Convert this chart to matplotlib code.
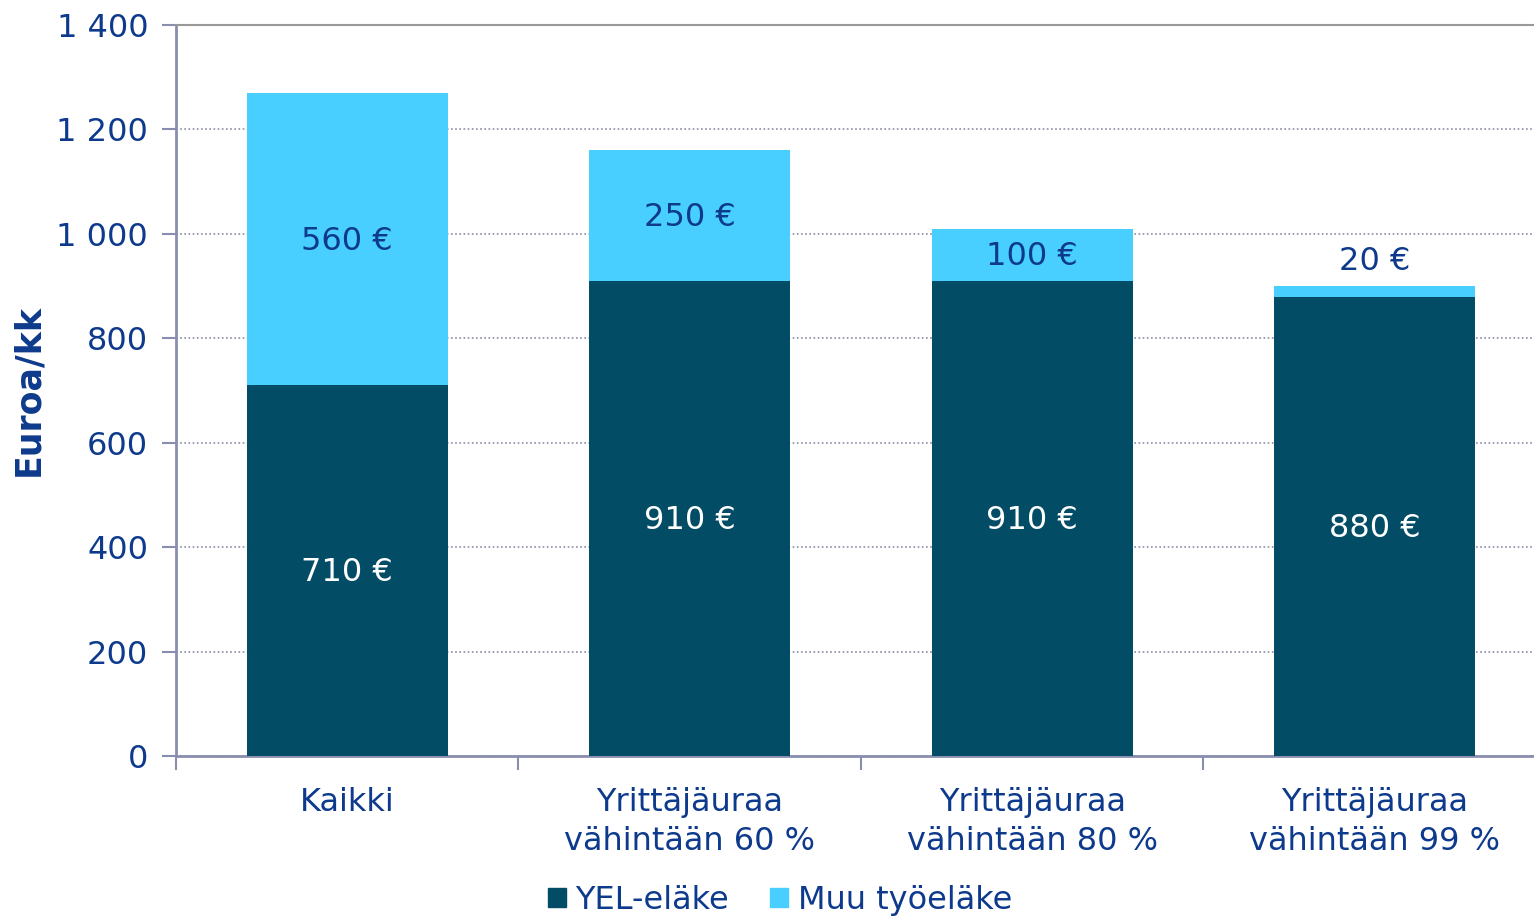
import numpy as np
import matplotlib.pyplot as plt
from matplotlib.patches import Patch

categories = ["Kaikki", "Yrittäjäuraa\nvähintään 60 %", "Yrittäjäuraa\nvähintään 80 %", "Yrittäjäuraa\nvähintään 99 %"]
yel = [710, 910, 910, 880]
muu = [560, 250, 100, 20]
series_names = ["YEL-eläke", "Muu työeläke"]

dark = "#024C66"
light = "#48CFFF"
navy = "#0D3A8C"
axis_col = "#8A8EAE"

plt.rcParams["font.family"] = "DejaVu Sans"

fig = plt.figure(figsize=(15.34, 9.17), dpi=100)
ax = fig.add_axes([176 / 1534, (917 - 756) / 917, (1534 - 176) / 1534, (756 - 25) / 917])

x = np.arange(len(categories))
w = 0.587
ax.bar(x, yel, w, color=dark, zorder=3)
ax.bar(x, muu, w, bottom=yel, color=light, zorder=3)

for i in range(len(x)):
    ax.text(x[i], yel[i] / 2 - 4, f"{yel[i]} €", ha="center", va="center",
            color="white", fontsize=23, zorder=4)
    if muu[i] >= 60:
        ypos = yel[i] + muu[i] / 2 - 4
    else:
        ypos = yel[i] + muu[i] + 48
    ax.text(x[i], ypos, f"{muu[i]} €", ha="center", va="center",
            color=navy, fontsize=23, zorder=4)

ax.set_yticks(range(0, 1401, 200))
ax.set_yticklabels([f"{v:,}".replace(",", " ") for v in range(0, 1401, 200)])
ax.set_xticks(x)
ax.set_xticklabels(categories, linespacing=1.35)
ax.set_xticks(np.arange(-0.5, 3.5, 1), minor=True)
ax.set_ylim(0, 1400)
ax.set_xlim(-0.5, 3.465)

ax.tick_params(axis="y", length=10, width=1.5, color=axis_col, labelcolor=navy,
               labelsize=23, pad=10)
ax.tick_params(axis="x", which="major", length=0, labelcolor=navy, labelsize=23, pad=22)
ax.tick_params(axis="x", which="minor", length=10, width=1.5, color=axis_col)

ax.yaxis.grid(True, linestyle=(0, (1, 1.5)), color="#8C8CA8", linewidth=1.2, zorder=0)
ax.spines["right"].set_visible(False)
ax.spines["top"].set_color("#999999")
ax.spines["top"].set_linewidth(1.5)
ax.spines["left"].set_color(axis_col)
ax.spines["bottom"].set_color(axis_col)
ax.spines["left"].set_linewidth(2)
ax.spines["bottom"].set_linewidth(2)

ax.set_ylabel("Euroa/kk", fontsize=25, fontweight="bold", color=navy, labelpad=8)

handles = [Patch(color=dark), Patch(color=light)]
fig.legend(handles, series_names, loc="lower center", bbox_to_anchor=(780 / 1534, -0.03),
           ncol=2, frameon=False, fontsize=23, labelcolor=navy,
           handlelength=0.55, handleheight=0.55, handletextpad=0.3, columnspacing=1.3)

fig.savefig("out.png", dpi=100)
